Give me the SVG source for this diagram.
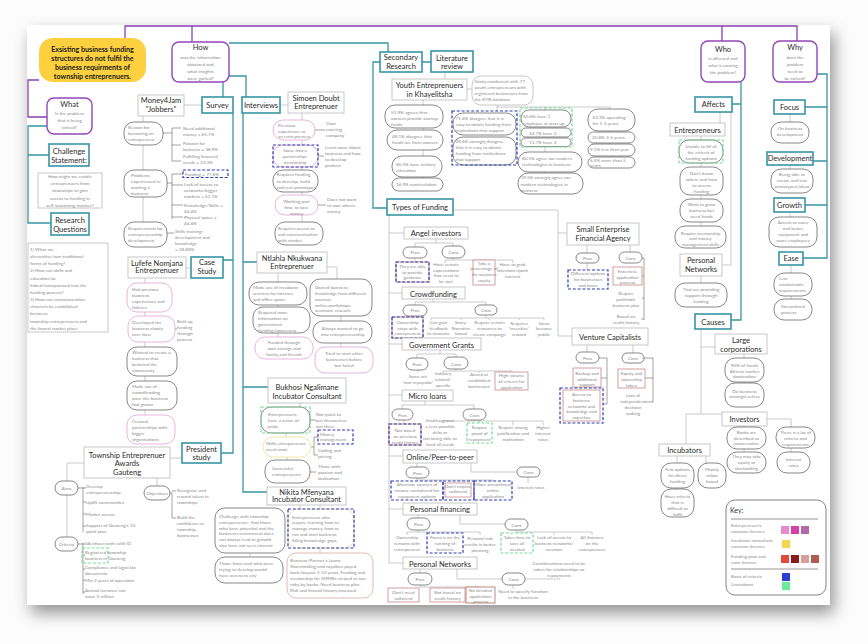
<svg xmlns="http://www.w3.org/2000/svg" width="868" height="644" viewBox="0 0 868 644">
<defs>
<filter id="sh" x="-6%" y="-6%" width="114%" height="120%"><feDropShadow dx="4" dy="8" stdDeviation="8" flood-color="#000" flood-opacity="0.42"/></filter>
<style>
.pu{fill:none;stroke:#8c3fb3;stroke-width:1.3}
.tl{fill:none;stroke:#3795a5;stroke-width:1.3}
.gl{fill:none;stroke:#bcbcbc;stroke-width:0.8}
.dl{fill:none;stroke:#666;stroke-width:0.6}
.pb{fill:#fff;stroke:#9247b8;stroke-width:1.4}
.tb{fill:#fff;stroke:#3795a5;stroke-width:1.6}
.gb{fill:#fff;stroke:#c2c2c2;stroke-width:0.9}
.pl{fill:#fff;stroke:#555;stroke-width:0.7}
.pk{fill:#fff;stroke:#e3a2d8;stroke-width:0.8}
.rb{fill:#fff;stroke:#cf9595;stroke-width:0.9}
.bd{fill:none;stroke:#2d3bb0;stroke-width:1.2;stroke-dasharray:3 1.8}
.gd{fill:none;stroke:#74dd98;stroke-width:1.2;stroke-dasharray:3 1.8}
.yp{fill:#fff;stroke:#ece3a0;stroke-width:0.9}
text{font-family:Lato,"Liberation Sans",sans-serif}
.h{font-size:7.5px;fill:#2a2a2a;text-anchor:middle}
.s{font-size:4.6px;fill:#8a8a8a}
.c{text-anchor:middle}
</style>
</defs>
<rect width="868" height="644" fill="#fcfcfc"/>
<rect x="27" y="25" width="803" height="580" fill="#fff" filter="url(#sh)"/>

<g id="connectors">
<path class="pu" d="M125,38V26H797V41M192,26V42M722,26V41M39,80H28V117H47"/>
<path class="tl" d="M47,126H28V223H51M28,155H49M223,82V97M229,76H246V97M229,43H388V52M233,113V453H221M223,260H233M243,113V492H267M243,262H257M243,387H268M380,62H373V208H387M422,62H431M741,82V320H731M741,104H732M817,74H827V258H803M827,107H805M827,161H813M827,205H805"/>
<path class="gl" d="M184,105H202M143,116V222M186,268H191M145,278V415M170,458H182M84,463H67V537M157,478V486M280,105H288M302,113V222M278,273V337M327,267H337V279M341,316V321M341,343V347M300,403V407M286,433V437M287,457V460M300,505V509M250,553V557M320,505V509M320,548V553M445,72V79M467,89H472M423,100V105M423,128V130M423,150V156M423,177V178M497,107H610M497,105V111M545,107V110M610,107V109M545,147V152M545,172V173M610,131V132M610,143V144M610,156V157M453,210H558V336H572M558,233H567M389,215V563M389,233H404M389,293H402M389,344H402M389,395H402M389,456H403M389,509H403M389,563H403M436,239V243M415,243H453M415,243V247M453,243V246M415,258V262M453,258V260M445,260H513M445,260V263M513,260V263M433,299V302M415,302H486M415,302V305M486,302V305M408,316V317M486,315V318M431,318H544M431,318V320M461,318V320M489,318V320M519,318V320M544,318V320M440,350V354M417,354H456M417,354V358M456,354V357M418,370V373M456,369V371M443,371H512M443,371V373M479,371V373M512,371V372M425,401V405M402,405H474M402,405V409M474,405V409M404,420V424M474,420V421M440,421H543M440,421V422M479,421V423M513,421V425M543,421V425M417,463V467M471,463V472H517M417,478V480H493V481M458,480V481M528,477V483M418,515V518M460,515V524H505M418,530V532M407,532H480M407,532V535M445,532V533M480,532V535M516,530V532H592M517,532V533M554,532V535M592,532V535M420,569V573M457,569V579H502M420,585V587H481V587M403,587V588M447,587V588M513,585V589M525,579H560V578M587,245V253M630,245V252M587,263V270M587,345V352M633,345V353M720,112V123M731,112V265H722M701,136V226M701,276V283M790,114V122M790,165V169M790,212V217M791,265V273M791,296V299M701,329V414M701,347H715M686,414H722M686,414V444M744,354V358M744,382V383M744,426V427M767,419H791V427M744,449V452M791,448V452M677,456V463M706,456V463M677,488V489"/>
<path class="dl" d="M163,133H172M172,128V161M172,128H181M172,145H181M172,161H181M167,183H172M172,174V219M172,174H183M172,185H183M172,205H183M172,217H183M167,233H174M175,329H177M78,488H83M83,487V532M83,488H86M83,502H86M83,514H86M83,526H86M170,493H172V518M172,491H176M172,518H176M78,544H83M83,543V594M83,544H85M83,555H85M83,569H85M83,580H85M83,592H85M315,130H325M318,156H324M318,205H326M310,420H316M311,447H314M314,437V455M314,437H318M314,455H318M310,472H316M642,258H644V320M644,276H642M644,298H642M644,319H641M599,358H607V404H603M607,378H601M644,358H653V402H645M653,378H645"/>
</g>

<g id="problem"><rect x="39" y="38" width="107" height="44" rx="14" fill="#fcd03f"/><text class="c" font-size="7.1" font-weight="bold" fill="#1a1a1a" x="92.5" y="51.5"><tspan x="92.5">Exsisting business funding</tspan><tspan x="92.5" dy="9">structures do not fulfil the</tspan><tspan x="92.5" dy="9">business requirments of</tspan><tspan x="92.5" dy="9">township entreprenuers.</tspan></text></g>

<g id="how"><rect class="pb" x="172" y="42" width="57" height="40" rx="7"/><text class="h" font-size="8.5" x="200.5" y="50">How</text><text class="s c" font-size="5.1" x="200.5" y="58.5"><tspan x="200.5">was the information</tspan><tspan x="200.5" dy="7">obtained and</tspan><tspan x="200.5" dy="7">what insights</tspan><tspan x="200.5" dy="7">were gained?</tspan></text></g>

<g id="what"><rect class="pb" x="47" y="98" width="45" height="36" rx="7"/><text class="h" font-size="8" x="69.5" y="107">What</text><text class="s c" font-size="5.1" x="69.5" y="115"><tspan x="69.5">Is the problem</tspan><tspan x="69.5" dy="7">that is being</tspan><tspan x="69.5" dy="7">solved?</tspan></text></g>

<g id="challenge"><rect class="tb" x="49" y="144" width="40" height="22"/><text class="h" font-size="7.2" x="69" y="153.5"><tspan x="69">Challenge</tspan><tspan x="69" dy="9">Statement:</tspan></text></g>
<g id="challenge-text"><rect class="gb" x="38" y="173" width="64" height="35"/><text class="s c" font-size="5.4" x="70" y="177.8"><tspan x="70">How might we enable</tspan><tspan x="70" dy="7.3">entreprenuers from</tspan><tspan x="70" dy="7.3">townships to gain</tspan><tspan x="70" dy="7.3">access to funding in</tspan><tspan x="70" dy="7.3">self-sustaining manner?</tspan></text></g>

<g id="research-q"><rect class="tb" x="51" y="213" width="38" height="22"/><text class="h" font-size="7.2" x="70" y="222.5"><tspan x="70">Research</tspan><tspan x="70" dy="9">Questions</tspan></text></g>
<g id="rq-text"><rect class="gb" x="28" y="243" width="80" height="89"/><text class="s" font-size="5.7" x="30" y="251"><tspan x="30">1) What are</tspan><tspan x="30" dy="7.15">alternative/non-traditional</tspan><tspan x="30" dy="7.15">forms of funding?</tspan><tspan x="30" dy="7.15">2) How can skills and</tspan><tspan x="30" dy="7.15">education be</tspan><tspan x="30" dy="7.15">linked/incorporated into the</tspan><tspan x="30" dy="7.15">funding process?</tspan><tspan x="30" dy="7.15">3) How can communication</tspan><tspan x="30" dy="7.15">channels be established</tspan><tspan x="30" dy="7.15">between</tspan><tspan x="30" dy="7.15">township entreprenuers and</tspan><tspan x="30" dy="7.15">the formal market place</tspan></text></g>

<g id="money4jam"><rect class="gb" x="138" y="95" width="46" height="21"/><text class="h" x="161" y="103"><tspan x="161">Money4Jam</tspan><tspan x="161" dy="9">"Jobbers"</tspan></text></g>
<g id="survey"><rect class="tb" x="202" y="97" width="31" height="16"/><text class="h" x="217.5" y="108">Survey</text></g>
<g id="interviews"><rect class="tb" x="242" y="97" width="38" height="16"/><text class="h" font-size="7.2" x="261" y="108">Interviews</text></g>

<g id="survey-reason"><rect class="pl" x="124" y="122" width="39" height="23" rx="10"/><text class="s" x="128" y="129"><tspan x="128">Reason for</tspan><tspan x="128" dy="6">becoming an</tspan><tspan x="128" dy="6">entrepreneur</tspan></text>
<text class="s" x="183" y="129.5"><tspan x="183">Need additional</tspan><tspan x="183" dy="6">money = 65.7%</tspan><tspan x="183" dy="9">Passion for</tspan><tspan x="183" dy="6">business = 38.9%</tspan><tspan x="183" dy="7.5">Fulfilling financial</tspan><tspan x="183" dy="6">needs = 33.3%</tspan></text></g>
<g id="survey-problems"><rect class="pl" x="124" y="170" width="43" height="27" rx="10"/><text class="s" x="131" y="177"><tspan x="131">Problems</tspan><tspan x="131" dy="6">experienced in</tspan><tspan x="131" dy="6">starting a</tspan><tspan x="131" dy="6">business</tspan></text>
<rect class="bd" x="183" y="170" width="45" height="7.5"/><text class="s" x="185" y="175.5">Funding = 77.8%</text>
<text class="s" x="184" y="186"><tspan x="184">Lack of access to</tspan><tspan x="184" dy="6">networks/bigger</tspan><tspan x="184" dy="6">markets = 61.1%</tspan><tspan x="184" dy="8.5">Knowledge/Skills =</tspan><tspan x="184" dy="6">44.4%</tspan><tspan x="184" dy="6">Physical space =</tspan><tspan x="184" dy="6">44.4%</tspan></text></g>
<g id="survey-requirements"><rect class="pl" x="124" y="222" width="43" height="25" rx="10"/><text class="s" x="128" y="230"><tspan x="128">Requirements for</tspan><tspan x="128" dy="6">entrepreneurship</tspan><tspan x="128" dy="6">development</tspan></text>
<text class="s" x="175" y="232.5"><tspan x="175">Skills training/</tspan><tspan x="175" dy="6.2">development and</tspan><tspan x="175" dy="6.2">knowledge</tspan><tspan x="175" dy="6.2">= 38.89%</tspan></text></g>

<g id="lufefe"><rect class="gb" x="128" y="257" width="58" height="21"/><text class="h" x="157" y="265.5"><tspan x="157">Lufefe Nomjana</tspan><tspan x="157" dy="7.5">Entreprenuer</tspan></text></g>
<g id="case-study"><rect class="tb" x="191" y="257" width="32" height="21"/><text class="h" x="207" y="264.5"><tspan x="207">Case</tspan><tspan x="207" dy="9">Study</tspan></text></g>
<g id="lufefe-items">
<rect class="pk" x="127" y="283" width="45" height="29" rx="10"/><text class="s" x="132" y="291"><tspan x="132">Had previous</tspan><tspan x="132" dy="6">business</tspan><tspan x="132" dy="6">experiences and</tspan><tspan x="132" dy="6">failures</tspan></text>
<rect class="pk" x="128" y="316" width="47" height="26" rx="10"/><text class="s" x="132" y="324"><tspan x="132">Developed the</tspan><tspan x="132" dy="6">business slowly</tspan><tspan x="132" dy="6">over time</tspan></text>
<text class="s" x="177" y="323"><tspan x="177">Built up</tspan><tspan x="177" dy="6">funding</tspan><tspan x="177" dy="6">through</tspan><tspan x="177" dy="6">process</tspan></text>
<rect class="pl" x="127" y="347" width="50" height="29" rx="10"/><text class="s" x="132" y="353.5"><tspan x="132">Wanted to create a</tspan><tspan x="132" dy="6.2">business that</tspan><tspan x="132" dy="6.2">bettered the</tspan><tspan x="132" dy="6.2">community</tspan></text>
<rect class="pl" x="127" y="381" width="50" height="29" rx="10"/><text class="s" x="132" y="387.5"><tspan x="132">Made use of</tspan><tspan x="132" dy="6.2">crowdfunding</tspan><tspan x="132" dy="6.2">once the business</tspan><tspan x="132" dy="6.2">had grown</tspan></text>
<rect class="pk" x="127" y="415" width="48" height="29" rx="10"/><text class="s" x="132" y="422.5"><tspan x="132">Created</tspan><tspan x="132" dy="6.2">partnerships with</tspan><tspan x="132" dy="6.2">bigger</tspan><tspan x="132" dy="6.2">organisations</tspan></text>
</g>

<g id="president"><rect class="tb" x="182" y="443" width="39" height="20"/><text class="h" x="201.5" y="451.5"><tspan x="201.5">President</tspan><tspan x="201.5" dy="8.5">study</tspan></text></g>
<g id="township-awards"><rect class="gb" x="84" y="447" width="86" height="31"/><text class="h" x="127" y="457.5"><tspan x="127">Township Entreprenuer</tspan><tspan x="127" dy="8.7">Awards</tspan><tspan x="127" dy="8.3">Gauteng</tspan></text></g>
<g id="awards-items">
<rect class="pl" x="55" y="481" width="23" height="14" rx="7"/><text class="s c" x="66.5" y="489.5">Aims</text>
<rect class="pl" x="144" y="486" width="26" height="14" rx="7"/><text class="s c" font-size="4.3" x="157" y="494.5">Objectives</text>
<rect class="pl" x="55" y="537" width="23" height="14" rx="7"/><text class="s c" x="66.5" y="545.5">Criteria</text>
<text class="s" x="86" y="488"><tspan x="86">Develop</tspan><tspan x="86" dy="5.7">entrepreneurship</tspan><tspan x="86" dy="10">Uplift communities</tspan><tspan x="86" dy="12.5">Market access</tspan><tspan x="86" dy="11">Support of Gauteng's 10</tspan><tspan x="86" dy="6">point plan</tspan></text>
<text class="s" x="177" y="492"><tspan x="177">Recognise and</tspan><tspan x="177" dy="6">reward talent in</tspan><tspan x="177" dy="5.7">townships</tspan><tspan x="177" dy="15">Build the</tspan><tspan x="177" dy="6">confidence in</tspan><tspan x="177" dy="6">township</tspan><tspan x="177" dy="6">businesses</tspan></text>
<rect class="gd" x="82" y="548" width="26" height="15"/>
<text class="s" x="85" y="545"><tspan x="85">SA citizen with valid ID</tspan><tspan x="85" dy="9">Registered township</tspan><tspan x="85" dy="6">business in Gauteng</tspan><tspan x="85" dy="9">Compliance and legal/tax</tspan><tspan x="85" dy="6">documents</tspan><tspan x="85" dy="7">Min 2 years of operation</tspan><tspan x="85" dy="10">Annual turnover not</tspan><tspan x="85" dy="5.5">more 2 million</tspan></text>
</g>

<g id="simoen"><rect class="gb" x="288" y="92" width="56" height="21"/><text class="h" x="316" y="101"><tspan x="316">Simoen Doubt</tspan><tspan x="316" dy="8">Entreprenuer</tspan></text></g>
<g id="simoen-items">
<rect class="pk" x="273" y="120" width="42" height="20" rx="10"/><text class="s" x="278" y="126.5"><tspan x="278">Previous</tspan><tspan x="278" dy="6">experience as</tspan><tspan x="278" dy="5.7">an entrepreneur</tspan></text>
<text class="s" x="326" y="125"><tspan x="326">Own</tspan><tspan x="326" dy="6">catering</tspan><tspan x="326" dy="6">company</tspan></text>
<rect class="pk" x="273" y="145" width="45" height="22" rx="10"/><rect class="bd" x="273" y="145" width="45" height="22"/><text class="s c" x="295" y="152"><tspan x="295">Gone into a</tspan><tspan x="295" dy="6">partnership/</tspan><tspan x="295" dy="6">mentorship</tspan></text>
<text class="s" x="325" y="149"><tspan x="325">Learn more about</tspan><tspan x="325" dy="6.2">business and how</tspan><tspan x="325" dy="6">to develop</tspan><tspan x="325" dy="5.7">product.</tspan></text>
<rect class="pl" x="273" y="170" width="45" height="22" rx="10"/><text class="s" x="276.5" y="176"><tspan x="276.5">Requires funding</tspan><tspan x="276.5" dy="6.5">to develop, build</tspan><tspan x="276.5" dy="6.3">and test prototypes</tspan></text>
<rect class="pk" x="275" y="195" width="43" height="20" rx="10"/><text class="s c" x="296.5" y="203"><tspan x="296.5">Working part</tspan><tspan x="296.5" dy="5.7">time to save</tspan><tspan x="296.5" dy="6">money</tspan></text>
<text class="s" x="327" y="201"><tspan x="327">Does not want</tspan><tspan x="327" dy="6">to owe others</tspan><tspan x="327" dy="6">money</tspan></text>
<rect class="pl" x="275" y="222" width="48" height="23" rx="10"/><text class="s" x="278" y="230"><tspan x="278">Requires access to</tspan><tspan x="278" dy="6">and communication</tspan><tspan x="278" dy="6">with market</tspan></text>
</g>

<g id="ntlahla"><rect class="gb" x="257" y="252" width="70" height="21"/><text class="h" x="292" y="260.5"><tspan x="292">Ntlahla Nkukwana</tspan><tspan x="292" dy="8">Entreprenuer</tspan></text></g>
<g id="ntlahla-items">
<rect class="pl" x="249" y="282" width="58" height="23" rx="10"/><text class="s" x="253" y="289"><tspan x="253">Made use of incubator</tspan><tspan x="253" dy="6">services for internet</tspan><tspan x="253" dy="6">and office space</tspan></text>
<rect class="pl" x="253" y="307" width="57" height="26" rx="10"/><text class="s" x="258" y="314"><tspan x="258">Required more</tspan><tspan x="258" dy="6">information on</tspan><tspan x="258" dy="6">government</tspan><tspan x="258" dy="6">funding/awareness</tspan></text>
<rect class="pk" x="255" y="337" width="58" height="22" rx="10"/><text class="s c" x="284" y="344"><tspan x="284">Funded through</tspan><tspan x="284" dy="6">own savings and</tspan><tspan x="284" dy="6">family and friends</tspan></text>
<rect class="pl" x="310" y="279" width="62" height="37" rx="10"/><text class="s" x="315" y="289"><tspan x="315">Gained business</tspan><tspan x="315" dy="6">knowledge from different</tspan><tspan x="315" dy="6">sources:</tspan><tspan x="315" dy="6">online,workshops,</tspan><tspan x="315" dy="5">seminars, reseach</tspan></text>
<rect class="pl" x="313" y="321" width="59" height="22" rx="10"/><text class="s c" x="342.5" y="330"><tspan x="342.5">Always wanted to go</tspan><tspan x="342.5" dy="5.5">into entrepreneurship</tspan></text>
<rect class="pk" x="315" y="347" width="58" height="26" rx="10"/><text class="s c" x="344" y="355"><tspan x="344">Tried to start other</tspan><tspan x="344" dy="6">businesses before</tspan><tspan x="344" dy="6">but failed</tspan></text>
</g>

<g id="bukhosi"><rect class="gb" x="268" y="378" width="78" height="25"/><text class="h" x="307" y="390"><tspan x="307">Bukhosi Ngalimane</tspan><tspan x="307" dy="9">Incubator Consultant</tspan></text></g>
<g id="bukhosi-items">
<rect class="pl" x="261" y="407" width="49" height="26" rx="10"/><rect class="gd" x="261" y="407" width="49" height="26"/><text class="s" x="268" y="416"><tspan x="268">Entreprenuers</tspan><tspan x="268" dy="6.3">have a sense of</tspan><tspan x="268" dy="5.7">pride</tspan></text>
<text class="s" x="316" y="416"><tspan x="316">Not quick to</tspan><tspan x="316" dy="6">put themselves</tspan><tspan x="316" dy="6">out there</tspan></text>
<rect class="bd" x="318" y="430" width="35" height="14"/><text class="s" x="320" y="435.5"><tspan x="320">Money</tspan><tspan x="320" dy="5.7">management</tspan></text>
<rect class="yp" x="263" y="437" width="48" height="20" rx="10"/><text class="s" x="266" y="445"><tspan x="266">Skills entrepreneurs</tspan><tspan x="266" dy="6">need most</tspan></text>
<text class="s" x="318" y="452"><tspan x="318">Coding and</tspan><tspan x="318" dy="6">pricing</tspan></text>
<rect class="pl" x="265" y="460" width="45" height="23" rx="10"/><text class="s" x="272" y="470"><tspan x="272">Successful</tspan><tspan x="272" dy="6">entrepreneurs</tspan></text>
<text class="s" x="318" y="468"><tspan x="318">Those with</tspan><tspan x="318" dy="6">passion and</tspan><tspan x="318" dy="6">dedication</tspan></text>
</g>

<g id="nikita"><rect class="gb" x="267" y="487" width="79" height="18"/><text class="h" x="306.5" y="494.5"><tspan x="306.5">Nikita Mfenyana</tspan><tspan x="306.5" dy="7.5">Incubator Consultant</tspan></text></g>
<g id="nikita-items">
<rect class="pl" x="215" y="508" width="70" height="45" rx="10"/><text class="s" x="219" y="518"><tspan x="219">Challenge with township</tspan><tspan x="219" dy="5.8">entrepreneurs : find those</tspan><tspan x="219" dy="5.8">who have potential and the</tspan><tspan x="219" dy="5.8">business environment does</tspan><tspan x="219" dy="5.8">not always lend to growth</tspan><tspan x="219" dy="6.2">also have not seen interest</tspan></text>
<rect class="pl" x="215" y="557" width="68" height="26" rx="10"/><text class="s" x="219" y="564.5"><tspan x="219">Those from rural who were</tspan><tspan x="219" dy="6.2">trying to develop would</tspan><tspan x="219" dy="6.2">have access to city</tspan></text>
<rect class="yp" x="288" y="509" width="66" height="39" rx="10"/><rect class="bd" x="288" y="509" width="66" height="39"/><text class="s" x="292" y="518.5"><tspan x="292">Entrepreneurs also</tspan><tspan x="292" dy="5.8">require learning how to</tspan><tspan x="292" dy="5.8">manage money, how to</tspan><tspan x="292" dy="5.8">run and start business,</tspan><tspan x="292" dy="5.8">filling knowledge gaps.</tspan></text>
<rect x="287" y="553" width="86" height="45" rx="9" fill="#fff" stroke="#dcb3ab" stroke-width="0.9"/><text class="s" x="290" y="562"><tspan x="290">Business/Partner's Loans:</tspan><tspan x="290" dy="6">Shareholding and royalties payed</tspan><tspan x="290" dy="6">back/buyout 5-10 years. Funding and</tspan><tspan x="290" dy="6">mentorship for SMMEs viewed as too</tspan><tspan x="290" dy="6">risky by banks. Need business plan.</tspan><tspan x="290" dy="6">Risk and finacial history assessed</tspan></text>
</g>

<g id="secondary"><rect class="tb" x="380" y="52" width="42" height="20"/><text class="h" x="401" y="60"><tspan x="401">Secondary</tspan><tspan x="401" dy="8.5">Research</tspan></text></g>
<g id="literature"><rect class="tb" x="431" y="51" width="42" height="21"/><text class="h" x="452" y="61"><tspan x="452">Literature</tspan><tspan x="452" dy="8">review</tspan></text></g>
<g id="youth"><rect class="gb" x="392" y="79" width="75" height="21"/><text class="h" x="429.5" y="87.5"><tspan x="429.5">Youth Entreprenuers</tspan><tspan x="429.5" dy="9">in  Khayelitsha</tspan></text></g>
<g id="study"><rect class="gb" x="472" y="76" width="61" height="29" rx="9" stroke="#aaa"/><text class="s" x="474.5" y="82.5"><tspan x="474.5">Study conducted with 77</tspan><tspan x="474.5" dy="6">youth entrepreneurs with</tspan><tspan x="474.5" dy="6">registered businesses from</tspan><tspan x="474.5" dy="6.3">the KYB database</tspan></text></g>
<g id="youth-items">
<rect class="pl" x="385" y="105" width="58" height="23" rx="10"/><text class="s" x="391" y="113.5"><tspan x="391">51.9% agrees that</tspan><tspan x="391" dy="6">owners provide startup</tspan><tspan x="391" dy="6">funds</tspan></text>
<rect class="pl" x="387" y="130" width="56" height="20" rx="10"/><text class="s" x="392" y="138"><tspan x="392">48.1% disagree that</tspan><tspan x="392" dy="6">funds are from owners</tspan></text>
<rect class="pl" x="392" y="156" width="50" height="21" rx="10"/><text class="s" x="396" y="166"><tspan x="396">80.5% have tertiary</tspan><tspan x="396" dy="6">education</tspan></text>
<rect class="pl" x="392" y="178" width="51" height="13" rx="6.5"/><text class="s" x="396" y="186">16.9% matriculation</text>
<rect class="pl" x="453" y="113" width="63" height="22" rx="10"/><rect class="pl" x="453" y="137" width="63" height="28" rx="10"/><rect class="bd" x="452" y="111" width="65" height="54"/>
<text class="s" x="455.5" y="120"><tspan x="455.5">71.4% disagree that it is</tspan><tspan x="455.5" dy="6">easy to obtain funding from</tspan><tspan x="455.5" dy="6">institutions that support</tspan></text>
<text class="s" x="455.5" y="142.5"><tspan x="455.5">28.6% strongly disagree</tspan><tspan x="455.5" dy="6.2">that it is easy to obtain</tspan><tspan x="455.5" dy="6.2">funding from institutions</tspan><tspan x="455.5" dy="6.2">that support</tspan></text>
<rect class="pl" x="521" y="110" width="50" height="17" rx="8"/><rect class="pl" x="521" y="128" width="50" height="9" rx="4.5"/><rect class="pl" x="521" y="138" width="50" height="8.5" rx="4.2"/><rect class="gd" x="520" y="108" width="52" height="39"/>
<text class="s" x="523" y="118"><tspan x="523">50.6% have 1</tspan><tspan x="523" dy="6.5">employee at start up</tspan></text>
<text class="s" x="529" y="134.5">24.7% have 2</text><text class="s" x="529" y="143.7">11.7% have 3</text>
<rect class="pl" x="518" y="152" width="64" height="20" rx="10"/><text class="s" x="522" y="160"><tspan x="522">80.5% agree use modern</tspan><tspan x="522" dy="6">technologies in business</tspan></text>
<rect class="pl" x="518" y="173" width="65" height="21" rx="10"/><text class="s" x="520.5" y="179"><tspan x="520.5">19.5% strongly agree use</tspan><tspan x="520.5" dy="6.5">modern technologies in</tspan><tspan x="520.5" dy="6">business</tspan></text>
<rect class="pl" x="588" y="109" width="47" height="22" rx="10"/><text class="s" x="592.5" y="118.5"><tspan x="592.5">63.3% operating</tspan><tspan x="592.5" dy="6">for 1-3 years</tspan></text>
<rect class="pl" x="588" y="132" width="47" height="11" rx="5.5"/><text class="s" x="592" y="139">20.8% 3-5 years</text>
<rect class="pl" x="588" y="144" width="47" height="12" rx="6"/><text class="s" x="590" y="151">9.1% less than year</text>
<rect class="pl" x="588" y="157" width="47" height="11" rx="5.5"/><text class="s" x="590" y="161.5"><tspan x="590">6.5% more than 5</tspan><tspan x="590" dy="5.8">years</tspan></text>
</g>

<g id="types-of-funding"><rect class="tb" x="387" y="199" width="66" height="16"/><text class="h" font-size="8" x="420" y="210">Types of Funding</text></g>

<g id="angel">
<rect class="gb" x="404" y="227" width="64" height="12"/><text class="h" x="436" y="236">Angel investors</text>
<rect class="pl" x="403" y="247" width="24" height="11" rx="5.5"/><text class="s c" x="415" y="254.3">Pros</text>
<rect class="pl" x="442" y="246" width="23" height="12" rx="6"/><text class="s c" x="453.5" y="254">Cons</text>
<rect class="rb" x="396" y="262" width="33" height="20"/><rect class="bd" x="396" y="262" width="33" height="20"/><text class="s c" x="412.5" y="268"><tspan x="412.5">They are able</tspan><tspan x="412.5" dy="5.7">to provide</tspan><tspan x="412.5" dy="5.7">guidance</tspan></text>
<text class="s c" x="446" y="266"><tspan x="446">Have certain</tspan><tspan x="446" dy="5.7">expectations</tspan><tspan x="446" dy="5.7">that need to</tspan><tspan x="446" dy="5.7">be met</tspan></text>
<rect class="rb" x="473" y="260" width="22" height="25"/><text class="s c" font-size="3.9" x="484" y="264.5"><tspan x="484">Take a</tspan><tspan x="484" dy="5.7">percentage of</tspan><tspan x="484" dy="5.7">the business</tspan><tspan x="484" dy="6">equity</tspan></text>
<text class="s c" x="512.5" y="266"><tspan x="512.5">Have to grab</tspan><tspan x="512.5" dy="5.8">attention/spark</tspan><tspan x="512.5" dy="5.8">interest</tspan></text>
</g>

<g id="crowdfunding">
<rect class="gb" x="402" y="287" width="63" height="12"/><text class="h" x="433.5" y="296.5">Crowdfunding</text>
<rect class="pl" x="403" y="305" width="24" height="11" rx="5.5"/><text class="s c" x="415" y="312.3">Pros</text>
<rect class="pl" x="475" y="305" width="22" height="10" rx="5"/><text class="s c" x="486" y="312">Cons</text>
<rect class="rb" x="392" y="317" width="31" height="21"/><rect class="bd" x="392" y="317" width="31" height="21"/><text class="s c" x="407.5" y="324"><tspan x="407.5">Ownership</tspan><tspan x="407.5" dy="5.6">stays with</tspan><tspan x="407.5" dy="5.6">entrepreneur</tspan></text>
<text class="s c" x="438.5" y="324"><tspan x="438.5">Can gain</tspan><tspan x="438.5" dy="5.6">feedback</tspan><tspan x="438.5" dy="5.6">to innovate</tspan></text>
<text class="s c" x="461" y="324"><tspan x="461">Story/</tspan><tspan x="461" dy="5.6">Narrative</tspan><tspan x="461" dy="5.6">based</tspan></text>
<text class="s c" x="489.5" y="324"><tspan x="489.5">Require certain</tspan><tspan x="489.5" dy="5.8">resources to</tspan><tspan x="489.5" dy="5.8">create campaign</tspan></text>
<text class="s c" x="519" y="324.5"><tspan x="519">Requires</tspan><tspan x="519" dy="5.8">'incentive'</tspan><tspan x="519" dy="5.8">reward</tspan></text>
<text class="s c" x="544" y="324.5"><tspan x="544">Ideas</tspan><tspan x="544" dy="5.8">become</tspan><tspan x="544" dy="5.8">public</tspan></text>
</g>

<g id="government-grants">
<rect class="gb" x="402" y="338" width="79" height="12"/><text class="h" x="441.5" y="347.5">Government Grants</text>
<rect class="pl" x="406" y="358" width="22" height="12" rx="6"/><text class="s c" x="417" y="366">Pros</text>
<rect class="pl" x="444" y="357" width="24" height="12" rx="6"/><text class="s c" x="456" y="365.5">Cons</text>
<text class="s c" x="418" y="377.5"><tspan x="418">Some are</tspan><tspan x="418" dy="6">'non-repayable'</tspan></text>
<text class="s c" x="443" y="375"><tspan x="443">Industry</tspan><tspan x="443" dy="6">related/</tspan><tspan x="443" dy="6">specific</tspan></text>
<text class="s c" x="479" y="376"><tspan x="479">Aimed at</tspan><tspan x="479" dy="6">established</tspan><tspan x="479" dy="6">businesses</tspan></text>
<rect class="rb" x="495" y="372" width="33" height="18"/><text class="s c" x="511.5" y="377"><tspan x="511.5">High volume</tspan><tspan x="511.5" dy="5.8">of criteria for</tspan><tspan x="511.5" dy="5.8">application</tspan></text>
</g>

<g id="micro-loans">
<rect class="gb" x="402" y="390" width="51" height="11"/><text class="h" x="427.5" y="398.5">Micro loans</text>
<rect class="pl" x="392" y="409" width="21" height="11" rx="5.5"/><text class="s c" x="402.5" y="416.5">Pros</text>
<rect class="pl" x="463" y="409" width="23" height="11" rx="5.5"/><text class="s c" x="474.5" y="416.5">Cons</text>
<rect class="rb" x="389" y="424" width="32" height="21"/><rect class="bd" x="389" y="424" width="32" height="21"/><text class="s c" x="405" y="432"><tspan x="405">Not based</tspan><tspan x="405" dy="5.8">on previous</tspan><tspan x="405" dy="5.8">credit history</tspan></text>
<text class="s c" x="440" y="422"><tspan x="440">Smaller grants</tspan><tspan x="440" dy="5.5">= Less possible</tspan><tspan x="440" dy="6">debt or</tspan><tspan x="440" dy="6">not being able to</tspan><tspan x="440" dy="6.3">fund all needs</tspan></text>
<rect class="gd" x="467" y="423" width="25" height="20"/><text class="s c" x="479.5" y="429"><tspan x="479.5">Require</tspan><tspan x="479.5" dy="6">proof of</tspan><tspan x="479.5" dy="6">repayment</tspan></text>
<text class="s c" x="513" y="429"><tspan x="513">Require strong</tspan><tspan x="513" dy="6">justification and</tspan><tspan x="513" dy="6">motivation</tspan></text>
<text class="s c" x="543" y="429"><tspan x="543">Higher</tspan><tspan x="543" dy="6">interest</tspan><tspan x="543" dy="6">rates</tspan></text>
</g>

<g id="online-p2p">
<rect class="gb" x="403" y="450" width="74" height="13"/><text class="h" x="440" y="459.5">Online/Peer-to-peer</text>
<rect class="pl" x="406" y="467" width="23" height="11" rx="5.5"/><text class="s c" x="417.5" y="474.5">Pros</text>
<rect class="pl" x="517" y="467" width="23" height="10" rx="5"/><text class="s c" x="528.5" y="474">Cons</text>
<rect class="bd" x="391" y="481" width="52" height="19"/><text class="s c" x="417" y="485.5"><tspan x="417">Alternate sources of</tspan><tspan x="417" dy="6.3">income considered for</tspan><tspan x="417" dy="6">repayment options</tspan></text>
<rect class="rb" x="445" y="483" width="26" height="14"/><rect class="bd" x="443" y="481" width="31" height="19"/><text class="s c" x="458" y="487.5"><tspan x="458">Don't require</tspan><tspan x="458" dy="5.8">collateral</tspan></text>
<rect class="bd" x="474" y="481" width="38" height="19"/><text class="s c" x="493" y="486"><tspan x="493">More streamlined</tspan><tspan x="493" dy="6">online</tspan><tspan x="493" dy="6">application</tspan></text>
<text class="s c" x="531" y="488.5">Interest rates</text>
</g>

<g id="personal-financing">
<rect class="gb" x="403" y="503" width="74" height="12"/><text class="h" x="440" y="512">Personal financing</text>
<rect class="pl" x="407" y="518" width="23" height="12" rx="6"/><text class="s c" x="418.5" y="526">Pros</text>
<rect class="pl" x="505" y="519" width="23" height="11" rx="5.5"/><text class="s c" x="516.5" y="526.5">Cons</text>
<text class="s c" x="407" y="539"><tspan x="407">Ownership</tspan><tspan x="407" dy="5.8">remains with</tspan><tspan x="407" dy="5.8">entrepreneur</tspan></text>
<rect class="bd" x="427" y="533" width="36" height="20"/><text class="s c" x="445" y="539"><tspan x="445">Focus is on the</tspan><tspan x="445" dy="6">running of</tspan><tspan x="445" dy="6">business</tspan></text>
<text class="s c" x="480" y="539.5"><tspan x="480">Personal risk</tspan><tspan x="480" dy="6">results in better</tspan><tspan x="480" dy="6">planning</tspan></text>
<rect class="gd" x="501" y="533" width="32" height="20"/><text class="s c" x="517" y="539"><tspan x="517">Takes time to</tspan><tspan x="517" dy="6">save all</tspan><tspan x="517" dy="6">needed</tspan></text>
<text class="s c" x="554" y="539"><tspan x="554">Lack of access to</tspan><tspan x="554" dy="6">business networks/</tspan><tspan x="554" dy="6">mentors</tspan></text>
<text class="s c" x="592" y="539"><tspan x="592">All finances</tspan><tspan x="592" dy="6">on the</tspan><tspan x="592" dy="6">entrepreneur</tspan></text>
</g>

<g id="personal-networks-funding">
<rect class="gb" x="403" y="557" width="74" height="12"/><text class="h" x="440" y="566.5">Personal Networks</text>
<rect class="pl" x="408" y="573" width="24" height="12" rx="6"/><text class="s c" x="420" y="581">Pros</text>
<rect class="pl" x="502" y="573" width="23" height="12" rx="6"/><text class="s c" x="513.5" y="581">Cons</text>
<rect class="rb" x="388" y="588" width="31" height="14"/><text class="s c" x="403.5" y="593.5"><tspan x="403.5">Don't need</tspan><tspan x="403.5" dy="6">collateral</tspan></text>
<rect class="rb" x="430" y="588" width="35" height="14"/><text class="s c" x="447.5" y="593.5"><tspan x="447.5">Not based on</tspan><tspan x="447.5" dy="6">credit history</tspan></text>
<rect x="466" y="587" width="29" height="16" fill="#fff" stroke="#b57a70" stroke-width="0.9"/><text class="s c" x="480.5" y="592"><tspan x="480.5">No detailed</tspan><tspan x="480.5" dy="5.5">application</tspan><tspan x="480.5" dy="5.5">process</tspan></text>
<text class="s c" x="523" y="592.5"><tspan x="523">Need to specify function</tspan><tspan x="523" dy="6">in the business</tspan></text>
<text class="s c" x="559" y="565"><tspan x="559">Considerations need to be</tspan><tspan x="559" dy="6">taken for relationships an</tspan><tspan x="559" dy="6">repayments</tspan></text>
</g>

<g id="sefa">
<rect class="gb" x="567" y="223" width="72" height="22"/><text class="h" x="603" y="232"><tspan x="603">Small Enterprise</tspan><tspan x="603" dy="9">Financial Agency</tspan></text>
<rect class="pl" x="576" y="253" width="23" height="10" rx="5"/><text class="s c" x="587.5" y="260">Pros</text>
<rect class="pl" x="619" y="252" width="23" height="11" rx="5.5"/><text class="s c" x="630.5" y="259.8">Cons</text>
<rect class="bd" x="568" y="270" width="40" height="19"/><text class="s c" x="588" y="275"><tspan x="588">Different options</tspan><tspan x="588" dy="6">for businesses</tspan><tspan x="588" dy="6">and loans</tspan></text>
<rect class="rb" x="613" y="267" width="29" height="18"/><text class="s c" x="627.5" y="273"><tspan x="627.5">Extensive</tspan><tspan x="627.5" dy="5.6">application</tspan><tspan x="627.5" dy="5.6">process</tspan></text>
<text class="s c" x="626" y="294.5"><tspan x="626">Require</tspan><tspan x="626" dy="6">profitable</tspan><tspan x="626" dy="6">business plan</tspan></text>
<text class="s c" x="626" y="318"><tspan x="626">Based on</tspan><tspan x="626" dy="6">credit history</tspan></text>
</g>

<g id="venture-capitalists">
<rect class="gb" x="572" y="328" width="76" height="17"/><text class="h" x="610" y="339.5">Venture Capitalists</text>
<rect class="pl" x="576" y="352" width="23" height="11" rx="5.5"/><text class="s c" x="587.5" y="359.5">Pros</text>
<rect class="pl" x="622" y="353" width="22" height="10" rx="5"/><text class="s c" x="633" y="360">Cons</text>
<rect class="rb" x="573" y="368" width="28" height="19"/><text class="s c" x="587" y="375"><tspan x="587">Backup and</tspan><tspan x="587" dy="5.8">additional</tspan><tspan x="587" dy="5.5">support</tspan></text>
<rect class="rb" x="563" y="390" width="37" height="31"/><rect class="bd" x="560" y="388" width="43" height="35"/><text class="s c" x="581.5" y="395.5"><tspan x="581.5">Access to</tspan><tspan x="581.5" dy="6">business</tspan><tspan x="581.5" dy="6">networks and</tspan><tspan x="581.5" dy="5.8">knowledge and</tspan><tspan x="581.5" dy="5.6">expertise</tspan></text>
<rect class="rb" x="618" y="369" width="27" height="19"/><text class="s c" x="631.5" y="375"><tspan x="631.5">Equity and</tspan><tspan x="631.5" dy="6">ownership</tspan><tspan x="631.5" dy="6">taken</tspan></text>
<text class="s c" x="633" y="397"><tspan x="633">Loss of</tspan><tspan x="633" dy="6">independent</tspan><tspan x="633" dy="6">decision</tspan><tspan x="633" dy="6">making</tspan></text>
</g>

<g id="who"><rect class="pb" x="701" y="41" width="44" height="41" rx="7"/><text class="h" font-size="8" x="723" y="52">Who</text><text class="s c" font-size="5.1" x="723" y="59.5"><tspan x="723">is affected and</tspan><tspan x="723" dy="7.3">who is causing</tspan><tspan x="723" dy="7.2">the problem?</tspan></text></g>
<g id="why"><rect class="pb" x="773" y="41" width="44" height="41" rx="7"/><text class="h" font-size="8" x="795" y="50">Why</text><text class="s c" font-size="5.1" x="795" y="58.5"><tspan x="795">does the</tspan><tspan x="795" dy="7.2">problem</tspan><tspan x="795" dy="7.2">need to</tspan><tspan x="795" dy="7.2">be solved?</tspan></text></g>

<g id="affects"><rect class="tb" x="695" y="97" width="37" height="15"/><text class="h" font-size="6.5" x="713.5" y="106.8">Affects</text></g>
<g id="entrepreneurs"><rect class="gb" x="670" y="123" width="55" height="13"/><text class="h" x="697.5" y="132.5">Entrepreneurs</text></g>
<g id="entrepreneurs-items">
<rect class="pl" x="679" y="140" width="44" height="23" rx="10"/><rect class="gd" x="679" y="140" width="44" height="23"/><text class="s c" x="701" y="147.5"><tspan x="701">Unable to fill all</tspan><tspan x="701" dy="6">the criteria of</tspan><tspan x="701" dy="6">funding options</tspan></text>
<rect class="pl" x="680" y="167" width="43" height="28" rx="10"/><text class="s c" x="701.5" y="174.5"><tspan x="701.5">Don't know</tspan><tspan x="701.5" dy="6.2">where and how</tspan><tspan x="701.5" dy="6">to access</tspan><tspan x="701.5" dy="6">funding</tspan></text>
<rect class="pl" x="680" y="199" width="43" height="23" rx="10"/><text class="s c" x="701.5" y="206"><tspan x="701.5">Want to grow</tspan><tspan x="701.5" dy="6">business but</tspan><tspan x="701.5" dy="6">need funds</tspan></text>
<rect class="pl" x="675" y="226" width="51" height="22" rx="10"/><text class="s c" x="700.5" y="234.5"><tspan x="700.5">Require mentorship</tspan><tspan x="700.5" dy="5.7">and money</tspan><tspan x="700.5" dy="5.8">management skills</tspan></text>
</g>
<g id="personal-networks"><rect class="gb" x="680" y="254" width="42" height="22"/><text class="h" x="701" y="263"><tspan x="701">Personal</tspan><tspan x="701" dy="9">Networks</tspan></text>
<rect class="pl" x="675" y="283" width="52" height="24" rx="10"/><text class="s c" x="701" y="291"><tspan x="701">That are providing</tspan><tspan x="701" dy="6">support through</tspan><tspan x="701" dy="6">funding</tspan></text></g>

<g id="causes"><rect class="tb" x="695" y="314" width="36" height="15"/><text class="h" x="713" y="324.5">Causes</text></g>
<g id="large-corporations"><rect class="gb" x="715" y="334" width="52" height="20"/><text class="h" x="741" y="342.5"><tspan x="741">Large</tspan><tspan x="741" dy="9">corporations</tspan></text>
<rect class="pl" x="725" y="358" width="39" height="24" rx="10"/><text class="s c" x="744.5" y="367"><tspan x="744.5">90% of South</tspan><tspan x="744.5" dy="5.6">African market</tspan><tspan x="744.5" dy="5.6">domination</tspan></text>
<rect class="pl" x="725" y="383" width="39" height="24" rx="10"/><text class="s c" x="744.5" y="392.5"><tspan x="744.5">Do business</tspan><tspan x="744.5" dy="5.6">amongst selves</tspan></text></g>
<g id="investors"><rect class="gb" x="722" y="412" width="45" height="14"/><text class="h" x="744.5" y="421.5">Investors</text>
<rect class="pl" x="727" y="427" width="39" height="22" rx="10"/><text class="s c" x="746.5" y="433.5"><tspan x="746.5">Banks are</tspan><tspan x="746.5" dy="6">described as</tspan><tspan x="746.5" dy="5.7">conservative</tspan></text>
<rect class="pl" x="727" y="452" width="39" height="21" rx="10"/><text class="s c" x="746.5" y="458"><tspan x="746.5">They may take</tspan><tspan x="746.5" dy="6">equity or</tspan><tspan x="746.5" dy="6">sharholding</tspan></text>
<rect class="pl" x="776" y="427" width="39" height="21" rx="10"/><text class="s c" x="795.5" y="434"><tspan x="795.5">There is a lot of</tspan><tspan x="795.5" dy="6">criteria and</tspan><tspan x="795.5" dy="6">requirements</tspan></text>
<rect class="pl" x="777" y="452" width="33" height="21" rx="10"/><text class="s c" x="793.5" y="461"><tspan x="793.5">Interest</tspan><tspan x="793.5" dy="6">rates</tspan></text></g>
<g id="incubators"><rect class="gb" x="659" y="444" width="51" height="12"/><text class="h" x="684.5" y="452.8">Incubators</text>
<rect class="pl" x="661" y="463" width="33" height="25" rx="10"/><text class="s c" x="677.5" y="471"><tspan x="677.5">Few options</tspan><tspan x="677.5" dy="6">for direct</tspan><tspan x="677.5" dy="6">funding</tspan></text>
<rect class="pl" x="698" y="463" width="28" height="25" rx="10"/><text class="s c" x="712" y="471"><tspan x="712">Mostly</tspan><tspan x="712" dy="6">urban</tspan><tspan x="712" dy="6">based</tspan></text>
<rect class="pl" x="661" y="489" width="33" height="28" rx="10"/><text class="s c" x="677.5" y="497.5"><tspan x="677.5">Have criteria</tspan><tspan x="677.5" dy="6">that is</tspan><tspan x="677.5" dy="6">difficult to</tspan><tspan x="677.5" dy="6">fulfil</tspan></text></g>

<g id="focus"><rect class="tb" x="774" y="100" width="31" height="14"/><text class="h" font-size="6.5" x="789.5" y="109.5">Focus</text>
<rect class="pl" x="771" y="122" width="38" height="21" rx="10"/><text class="s c" x="790" y="130"><tspan x="790">On business</tspan><tspan x="790" dy="6">development</tspan></text></g>
<g id="development"><rect class="tb" x="767" y="152" width="46" height="13"/><text class="h" font-size="6.5" x="790" y="161">Development</text>
<rect class="pl" x="771" y="169" width="42" height="24" rx="10"/><text class="s c" x="792" y="176"><tspan x="792">Being able to</tspan><tspan x="792" dy="6">create and test</tspan><tspan x="792" dy="6.3">prototypes/ideas</tspan></text></g>
<g id="growth"><rect class="tb" x="774" y="198" width="31" height="14"/><text class="h" font-size="6.5" x="789.5" y="207.5">Growth</text>
<rect class="pl" x="769" y="217" width="48" height="30" rx="10"/><text class="s c" x="793" y="224"><tspan x="793">Access to more</tspan><tspan x="793" dy="6">and better</tspan><tspan x="793" dy="6">equipment and</tspan><tspan x="793" dy="6">more employees</tspan></text></g>
<g id="ease"><rect class="tb" x="779" y="252" width="24" height="13"/><text class="h" font-size="6.5" x="791" y="261">Ease</text>
<rect class="pl" x="774" y="273" width="38" height="23" rx="10"/><text class="s" x="779" y="279.5"><tspan x="779">Less</tspan><tspan x="779" dy="6">unattainable</tspan><tspan x="779" dy="6">requirements</tspan></text>
<rect class="pl" x="774" y="299" width="38" height="21" rx="10"/><text class="s" x="781" y="308"><tspan x="781">Streamlined</tspan><tspan x="781" dy="6">process</tspan></text></g>

<g id="key">
<rect x="726" y="500" width="100" height="95" rx="9" fill="#fff" stroke="#666" stroke-width="0.8"/>
<text x="730" y="513" font-size="7" fill="#333">Key:</text>
<path d="M731,519H818M731,569H818" stroke="#888" stroke-width="0.9"/>
<text class="s" x="731" y="527"><tspan x="731">Entrepeneuer's</tspan><tspan x="731" dy="6">common themes</tspan></text>
<rect x="781" y="526" width="8" height="8" fill="#e689c8"/><rect x="791" y="526" width="8" height="8" fill="#d63fa8"/><rect x="801" y="526" width="8" height="8" fill="#b06aa8"/>
<text class="s" x="731" y="542"><tspan x="731">Incubator consultant</tspan><tspan x="731" dy="6">common themes</tspan></text>
<rect x="782" y="540" width="8" height="8" fill="#f3d64e"/>
<text class="s" x="731" y="558"><tspan x="731">Funding pros and</tspan><tspan x="731" dy="6">cons themes</tspan></text>
<rect x="781" y="555" width="8" height="8" fill="#e04a3a"/><rect x="791" y="555" width="8" height="8" fill="#8b1c1c"/><rect x="801" y="555" width="8" height="8" fill="#d4a09a"/><rect x="811" y="555" width="8" height="8" fill="#b35a50"/>
<text class="s" x="731" y="578">Basis of criteria</text><rect x="782" y="573" width="8" height="8" fill="#2c3fd0"/>
<text class="s" x="731" y="586">Limitations</text><rect x="782" y="582" width="8" height="8" fill="#6ee89a"/>
</g>
</svg>
